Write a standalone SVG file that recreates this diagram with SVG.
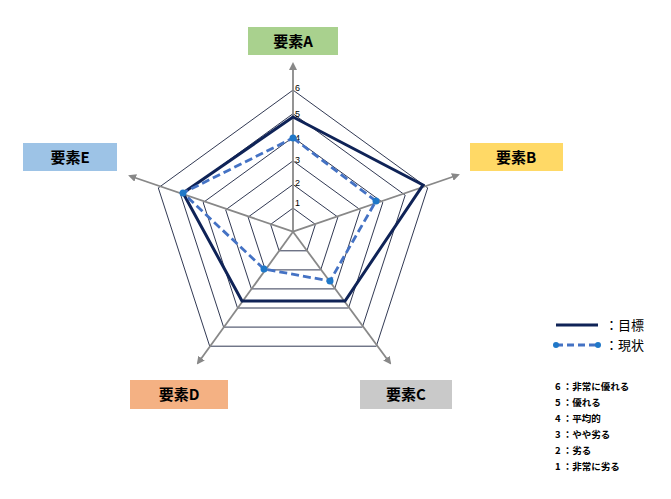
<svg xmlns="http://www.w3.org/2000/svg" width="671" height="499" viewBox="0 0 671 499">
<style>
.g{fill:none;stroke:#1a2340;stroke-width:0.9}
.ax{stroke:#888;stroke-width:1.8;marker-end:url(#ar)}
.lb{font-family:"Noto Sans CJK JP",sans-serif;font-weight:bold;font-size:15px;fill:#000;text-anchor:middle}
.n{font-family:"Liberation Sans",sans-serif;font-size:9px;fill:#000}
.lg{font-family:"Noto Sans CJK JP",sans-serif;font-size:13px;fill:#000}
.s{font-family:"Noto Sans CJK JP",sans-serif;font-size:9.5px;font-weight:bold;fill:#000}
.t{fill:none;stroke:#0f2357;stroke-width:3}
.c{fill:none;stroke:#4472c4;stroke-width:2.8;stroke-dasharray:8,4}
.d{fill:#1f78c8}
</style>
<defs><marker id="ar" markerWidth="8" markerHeight="8" refX="6" refY="4" orient="auto" markerUnits="userSpaceOnUse"><path d="M0,0L8,4L0,8z" fill="#888"/></marker></defs>
<rect width="671" height="499" fill="#fff"/>
<g id="grid">
<polygon class="g" points="293,208.1 315.4,224.4 306.9,250.8 279.1,250.8 270.6,224.4"/>
<polygon class="g" points="293,184.5 337.9,217.1 320.7,269.9 265.3,269.9 248.1,217.1"/>
<polygon class="g" points="293,160.9 360.3,209.8 334.6,288.9 251.4,288.9 225.7,209.8"/>
<polygon class="g" points="293,137.3 382.8,202.5 348.5,308.0 237.5,308.0 203.2,202.5"/>
<polygon class="g" points="293,113.7 405.2,195.2 362.4,327.1 223.6,327.1 180.8,195.2"/>
<polygon class="g" points="293,90.1 427.7,187.9 376.3,346.2 209.7,346.2 158.3,187.9"/>
</g>
<g id="connectors">
<line class="ax" x1="293" y1="231.7" x2="293" y2="64"/>
<line class="ax" x1="293" y1="231.7" x2="458" y2="175"/>
<line class="ax" x1="293" y1="231.7" x2="390" y2="363"/>
<line class="ax" x1="293" y1="231.7" x2="198" y2="363"/>
<line class="ax" x1="293" y1="231.7" x2="130" y2="176"/>
</g>
<g id="scale">
<text class="n" x="295" y="206">1</text><text class="n" x="295" y="186">2</text><text class="n" x="295" y="163">3</text><text class="n" x="295" y="141">4</text><text class="n" x="295" y="117">5</text><text class="n" x="295" y="91">6</text>
</g>
<g id="target"><polygon class="t" points="293,117 423,185 345,301 242,301 183,193"/></g>
<g id="current"><polygon class="c" points="293,138 376,201 330,281 264,269 183,193"/>
<circle class="d" cx="293" cy="138" r="3.5"/><circle class="d" cx="376" cy="201" r="3.5"/><circle class="d" cx="330" cy="281" r="3.5"/><circle class="d" cx="264" cy="269" r="3.5"/><circle class="d" cx="183" cy="193" r="3.5"/></g>
<g id="nodeA"><rect x="248" y="27" width="90" height="28" fill="#a9d18e"/><text class="lb" x="293" y="47">要素A</text></g>
<g id="nodeB"><rect x="470" y="143" width="93" height="28" fill="#ffd966"/><text class="lb" x="516" y="163">要素B</text></g>
<g id="nodeC"><rect x="360" y="380" width="92" height="29" fill="#c9c9c9"/><text class="lb" x="406" y="400">要素C</text></g>
<g id="nodeD"><rect x="130" y="380" width="98" height="29" fill="#f4b183"/><text class="lb" x="179" y="400">要素D</text></g>
<g id="nodeE"><rect x="23" y="143" width="94" height="28" fill="#9dc3e6"/><text class="lb" x="70" y="163">要素E</text></g>
<g id="legend">
<line x1="556" y1="325" x2="598" y2="325" stroke="#0f2357" stroke-width="2.8"/><text class="lg" x="605" y="330">：目標</text>
<line x1="556" y1="345" x2="598" y2="345" stroke="#4472c4" stroke-width="2.8" stroke-dasharray="7,4"/><circle class="d" cx="556" cy="345" r="3"/><circle class="d" cx="598" cy="345" r="3"/><text class="lg" x="605" y="350">：現状</text>
<text class="s" x="555" y="390">6 ：非常に優れる</text>
<text class="s" x="555" y="406">5 ：優れる</text>
<text class="s" x="555" y="422">4 ：平均的</text>
<text class="s" x="555" y="438">3 ：やや劣る</text>
<text class="s" x="555" y="454">2 ：劣る</text>
<text class="s" x="555" y="470">1 ：非常に劣る</text>
</g>
</svg>
